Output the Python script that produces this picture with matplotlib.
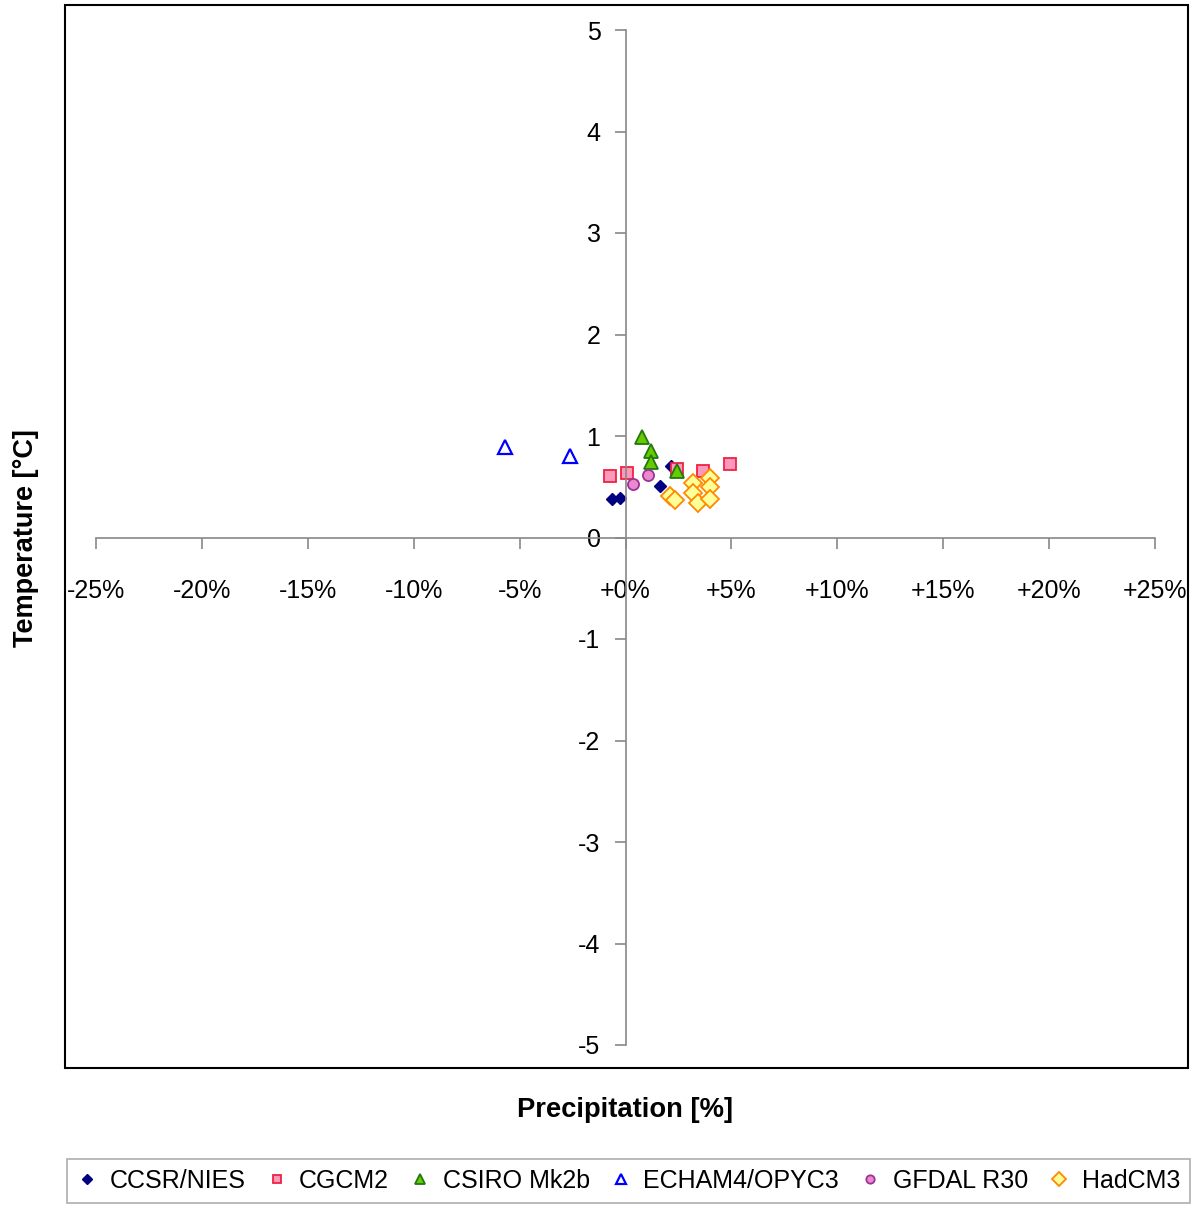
import matplotlib
matplotlib.use("Agg")
import matplotlib.pyplot as plt
from matplotlib.patches import Rectangle
from matplotlib.ticker import FuncFormatter, MultipleLocator

plt.rcParams["font.family"] = ["Liberation Sans", "DejaVu Sans"]

# precipitation change [%], temperature change [degC]
ccsr_x = [-0.64, -0.26, 1.63, 2.15]
ccsr_y = [0.38, 0.39, 0.51, 0.70]
cgcm_x = [-0.73, 0.07, 2.43, 3.66, 4.93]
cgcm_y = [0.61, 0.64, 0.67, 0.66, 0.72]
csiro_x = [0.78, 1.20, 1.20, 2.43]
csiro_y = [0.99, 0.85, 0.74, 0.66]
echam_x = [-5.69, -2.62]
echam_y = [0.89, 0.80]
gfdl_x = [0.35, 1.06]
gfdl_y = [0.53, 0.62]
had_x = [2.10, 2.35, 3.19, 3.19, 3.43, 4.00, 4.00, 4.00]
had_y = [0.41, 0.37, 0.54, 0.44, 0.34, 0.59, 0.50, 0.38]

fig = plt.figure(figsize=(11.96, 12.14), dpi=100)
ax = fig.add_axes([96 / 1196, 1 - 1045 / 1214, 1059 / 1196, 1015 / 1214])

ax.plot(ccsr_x, ccsr_y, "D", ms=6.5, mfc="#000080", mec="#000080", label="CCSR/NIES", clip_on=False)
ax.plot(cgcm_x, cgcm_y, "s", ms=8.5, mfc="#ff99bb", mec="#ee2244", mew=1.3, label="CGCM2", clip_on=False)
ax.plot(csiro_x, csiro_y, "^", ms=9.5, mfc="#66cc00", mec="#227711", mew=1.3, label="CSIRO Mk2b", clip_on=False)
ax.plot(echam_x, echam_y, "^", ms=9.5, mfc="white", mec="#0000ff", mew=1.6, label="ECHAM4/OPYC3", clip_on=False)
ax.plot(gfdl_x, gfdl_y, "o", ms=8, mfc="#ee88cc", mec="#993399", mew=1.3, label="GFDAL R30", clip_on=False)
ax.plot(had_x, had_y, "D", ms=9.5, mfc="#ffff99", mec="#ff8800", mew=1.3, label="HadCM3", clip_on=False)

ax.set_xlim(-25, 25)
ax.set_ylim(-5, 5)
for s in ["top", "right"]:
    ax.spines[s].set_visible(False)
for s in ["left", "bottom"]:
    ax.spines[s].set_position(("data", 0))
    ax.spines[s].set_color("#888888")
    ax.spines[s].set_linewidth(1.2)

ax.xaxis.set_major_locator(MultipleLocator(5))
ax.yaxis.set_major_locator(MultipleLocator(1))
ax.xaxis.set_major_formatter(FuncFormatter(lambda v, p: "%+d%%" % round(v) if round(v) != 0 else "+0%"))
ax.yaxis.set_major_formatter(FuncFormatter(lambda v, p: "%d" % round(v)))
ax.tick_params(axis="x", direction="out", length=8, width=1.2, color="#888888", pad=22, labelsize=18)
ax.tick_params(axis="y", direction="out", length=8, width=1.2, color="#888888", pad=10, labelsize=18)

fig.patches.append(Rectangle((65 / 1196, 1 - 1068 / 1214), 1123 / 1196, 1063 / 1214,
                             transform=fig.transFigure, fill=False, ec="black", lw=1.5))

fig.text(625 / 1196, 1 - 1110 / 1214, "Precipitation [%]", ha="center", va="center",
         fontsize=19.7, fontweight="bold")
fig.text(26 / 1196, 1 - 538 / 1214, "Temperature [°C]", ha="center", va="center",
         rotation=90, fontsize=19.5, fontweight="bold")

leg = fig.legend(loc="center", bbox_to_anchor=(67 / 1196, 1 - 1213 / 1214, 1123 / 1196, 65 / 1214),
                 ncol=6, fontsize=18, frameon=True, fancybox=False, edgecolor="#999999",
                 handlelength=0.8, handletextpad=0.5, columnspacing=1.0, markerscale=0.75,
                 mode="expand", borderaxespad=0)
leg.get_frame().set_linewidth(1.2)

fig.savefig("out.png", dpi=100)
